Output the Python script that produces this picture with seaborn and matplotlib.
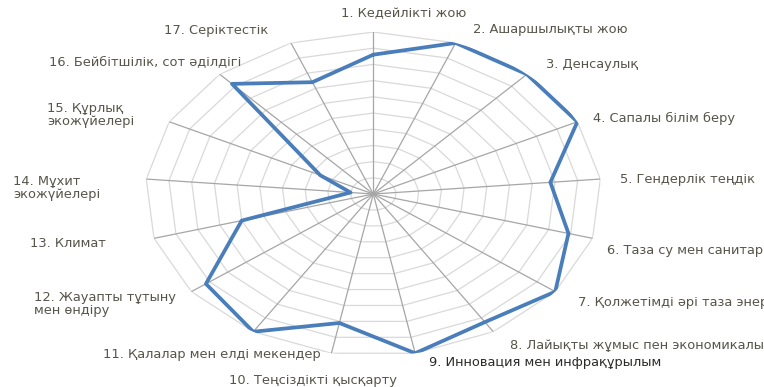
import numpy as np
import matplotlib
matplotlib.use("Agg")
import matplotlib.pyplot as plt
import seaborn as sns

# Sustainable development goals and their scores (0-100)
categories = [
    "1. Кедейлікті жою",
    "2. Ашаршылықты жою",
    "3. Денсаулық",
    "4. Сапалы білім беру",
    "5. Гендерлік теңдік",
    "6. Таза су мен санитария",
    "7. Қолжетімді әрі таза энергия",
    "8. Лайықты жұмыс пен экономикалық өсу",
    "9. Инновация мен инфрақұрылым",
    "10. Теңсіздікті қысқарту",
    "11. Қалалар мен елді мекендер",
    "12. Жауапты тұтыну\nмен өндіру",
    "13. Климат",
    "14. Мұхит\nэкожүйелері",
    "15. Құрлық\nэкожүйелері",
    "16. Бейбітшілік, сот әділдігі",
    "17. Серіктестік",
]
scores = [86, 100, 100, 100, 78, 89, 100, 93, 100, 81, 100, 92, 60, 10, 26, 92, 74]
ring_levels = [10, 20, 30, 40, 50, 60, 70, 80, 90, 100]

# label placement: horizontal alignment and pixel offset from the spoke end
label_ha = ["center", "left", "left", "left", "left", "left", "left", "left", "left",
            "center", "right", "right", "right", "right", "right", "right", "right"]
label_dx = [30, 17, 19, 16, 20, 14, 23, 17, 14, -18, 67, -15, -48, -46, -35, 22, -23]
label_dy = [-18, -13, -10, -3, 0, 12, 11, 14, 9, 27, 23, 12, 5, 9, -7, -13, -12]
label_color = ["#57554a"] * 17
label_color[8] = "#2b2b28"

sns.set_theme(style="white")
plt.rcParams["font.family"] = ["DejaVu Sans"]

W, H = 764, 387
fig = plt.figure(figsize=(W / 100, H / 100), dpi=100)
fig.patch.set_facecolor("white")

cx, cy, rx, ry = 373.3, 194.0, 228.0, 162.0
ax = fig.add_axes([(cx - rx) / W, (H - cy - ry) / H, 2 * rx / W, 2 * ry / H],
                  projection="polar")
ax.set_aspect("auto")
ax.set_theta_offset(np.pi / 2)
ax.set_theta_direction(-1)
ax.set_ylim(0, ring_levels[-1])
ax.grid(False)
ax.spines["polar"].set_visible(False)
ax.set_xticks([])
ax.set_yticks([])
ax.set_facecolor("none")

n = len(categories)
theta = np.arange(n) * 2 * np.pi / n
theta_closed = np.append(theta, 2 * np.pi)

# polygonal grid rings
for lvl in ring_levels:
    ax.plot(theta_closed, [lvl] * (n + 1), color="#d9d9d9", lw=0.9, zorder=1)
# spokes
for t in theta:
    ax.plot([t, t], [0, ring_levels[-1]], color="#a6a6a6", lw=0.9, zorder=2)

vals_closed = scores + scores[:1]
sns.lineplot(x=theta_closed, y=vals_closed, sort=False, estimator=None,
             ax=ax, color="#4a7ebb", lw=2.7, zorder=3)
ax.set_xlabel("")
ax.set_ylabel("")

for i, lab in enumerate(categories):
    ax.annotate(lab, xy=(theta[i], ring_levels[-1]), xycoords="data",
                xytext=(label_dx[i], -label_dy[i]), textcoords="offset pixels",
                ha=label_ha[i], va="center", multialignment="left",
                fontsize=9.4, color=label_color[i], annotation_clip=False,
                linespacing=1.0)

fig.savefig("out.png", dpi=100, facecolor="white")
